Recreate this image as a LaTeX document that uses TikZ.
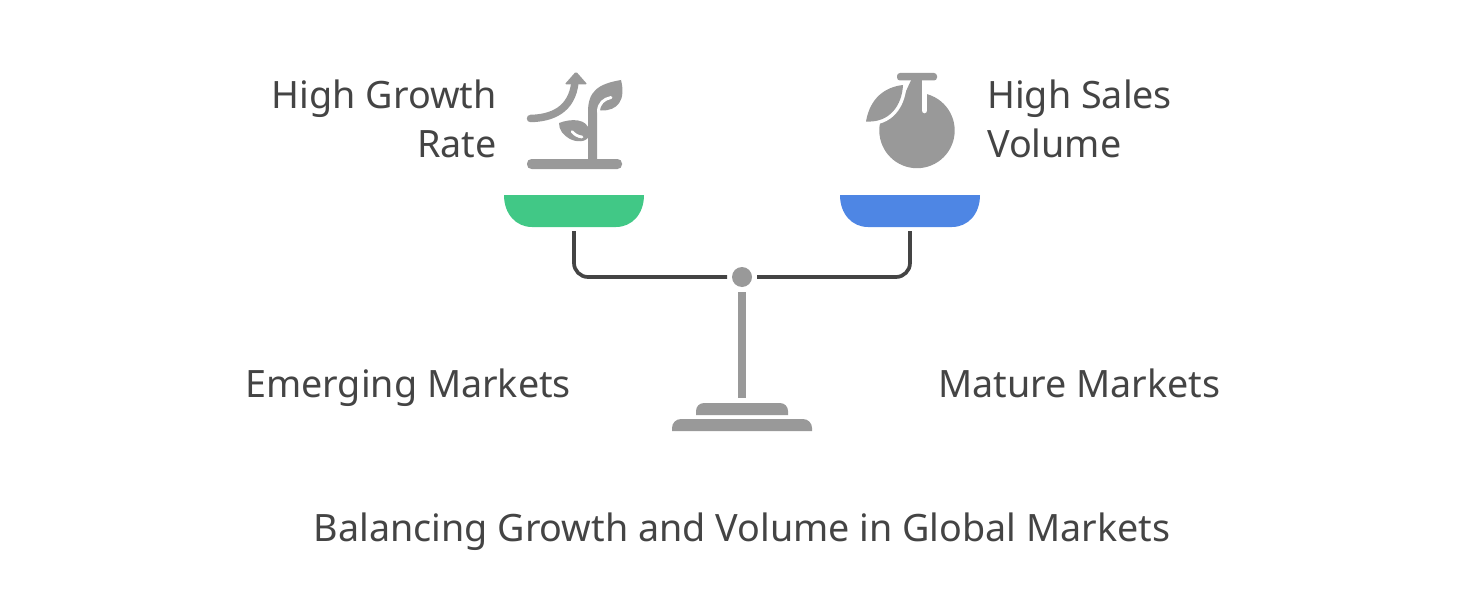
\documentclass[tikz,border=0pt]{standalone}
\usepackage{fontspec}
\setmainfont{Noto Sans}
\usetikzlibrary{positioning,calc}

\definecolor{txtgray}{HTML}{444444}
\definecolor{icongray}{HTML}{999999}
\definecolor{pangreen}{HTML}{41C886}
\definecolor{panblue}{HTML}{4E86E4}

\begin{document}
\begin{tikzpicture}[x=1pt,y=-1pt,
label/.style={text=txtgray,inner sep=0pt,font=\fontsize{37.7}{48}\selectfont},
beam/.style={draw=txtgray,line width=3.7pt,rounded corners=14pt},
cut/.style={draw=white,line width=3pt,line cap=round}]

\useasboundingbox (0,0) rectangle (1468,610);

% texts
\node[label,anchor=base east](growth) at (497,109){High Growth};
\node[label,anchor=base east](rate) at (497,157){Rate};
\node[label,anchor=base west](sales) at (987,109){High Sales};
\node[label,anchor=base west](volume) at (987,157){Volume};
\node[label,anchor=base west](emerging) at (245,397){Emerging Markets};
\node[label,anchor=base west](mature) at (938,397){Mature Markets};
\node[label,anchor=base](title) at (742,541){Balancing Growth and Volume in Global Markets};

% pans
\fill[pangreen] (504,195) -- (644,195) .. controls (644,214) and (632,227) .. (616,227) -- (532,227) .. controls (516,227) and (504,214) .. (504,195) -- cycle;
\fill[panblue] (840,195) -- (980,195) .. controls (980,214) and (968,227) .. (952,227) -- (868,227) .. controls (852,227) and (840,214) .. (840,195) -- cycle;
\coordinate (leftpan) at (574,231);
\coordinate (rightpan) at (910,231);

% pivot and beam
\node[circle,fill=icongray,minimum size=20pt,inner sep=0pt,outer sep=5pt](pivot) at (742,277){};
\draw[beam] (leftpan) -- (574,277) -- (pivot.west);
\draw[beam] (rightpan) -- (910,277) -- (pivot.east);

% stand
\coordinate (postfoot) at (742,398);
\draw[icongray,line width=8pt] (pivot.south) -- (postfoot);
\fill[icongray] (696,415) [rounded corners=8pt] -- (696,403) -- (788,403) [sharp corners] -- (788,415) -- cycle;
\fill[icongray] (672,431) [rounded corners=9pt] -- (672,419) -- (812,419) [sharp corners] -- (812,431) -- cycle;

% plant icon
\fill[icongray,rounded corners=4.5pt] (527,159) rectangle (622,169);
\fill[icongray] (588,162) -- (588,112) .. controls (588,92) and (597,84) .. (621,80) .. controls (626,100) and (618,111) .. (601,110.5) -- (597,110) -- (597,162) -- cycle;
\fill[icongray] (559,123) .. controls (572,118) and (587,119) .. (589,130) -- (589,136) .. controls (586,143) and (576,142) .. (570,139) .. controls (563,135) and (559,130) .. (559,123) -- cycle;
\draw[cut] (598.5,112) .. controls (598.5,103) and (604,99) .. (611,97.5);
\draw[cut,line width=2.8pt] (572,131.5) .. controls (575,135) and (578,136.5) .. (582,137);
\draw[icongray,line width=7.5pt,line cap=round] (530.5,118.5) .. controls (552,118) and (572,110) .. (575,82);
\fill[icongray,rounded corners=1.5pt] (576,71.5) -- (587.5,84.5) -- (564.5,84.5) -- cycle;

% fruit icon
\fill[icongray] (917,130.5) circle (37.7pt);
\fill[icongray] (912,78) -- (922,78) -- (922,100) -- (902,100) -- cycle;
\draw[draw=white,line width=7pt] (909,77) -- (903,85) .. controls (902,105) and (890,123) .. (866,121.5);
\fill[icongray] (866,121.5) .. controls (870,98) and (885,87) .. (903,85) .. controls (902,105) and (890,123) .. (866,121.5) -- cycle;
\fill[white] (921.8,78) rectangle (935,92);
\draw[white,line width=5.6pt,line cap=round] (924.5,80) -- (924.5,110.5);
\fill[icongray,rounded corners=3pt] (897,73) rectangle (937,80.5);
\end{tikzpicture}
\end{document}
